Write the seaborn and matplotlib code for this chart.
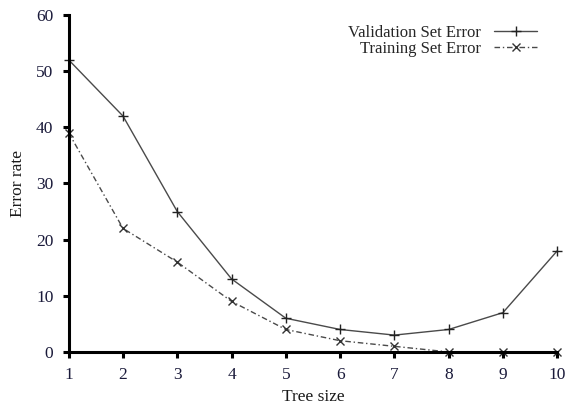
import matplotlib
matplotlib.use("Agg")
import matplotlib.pyplot as plt
import seaborn as sns
import pandas as pd

tree_size = [1, 2, 3, 4, 5, 6, 7, 8, 9, 10]
validation_error = [52, 42, 25, 13, 6, 4, 3, 4, 7, 18]
training_error = [39, 22, 16, 9, 4, 2, 1, 0, 0, 0]

sns.set_style("white")
plt.rcParams['font.family'] = ['Liberation Serif', 'DejaVu Serif']

fig = plt.figure(figsize=(5.68, 4.05), dpi=100)
ax = fig.add_axes([0.121, 0.131, 0.860, 0.832])

df = pd.DataFrame({"x": tree_size, "v": validation_error, "t": training_error})
sns.lineplot(data=df, x="x", y="v", ax=ax, color="#4a4a4a", lw=1.0,
             marker="+", markersize=7, markeredgewidth=1.0, markeredgecolor="#222222",
             label="Validation Set Error")
sns.lineplot(data=df, x="x", y="t", ax=ax, color="#4a4a4a", lw=1.0,
             marker="x", markersize=6, markeredgewidth=1.0, markeredgecolor="#333333",
             label="Training Set Error")
ax.lines[1].set_dashes((4, 2, 1, 2))

ax.set_xlim(1, 10)
ax.set_ylim(0, 60)
ax.set_xticks(tree_size)
ax.set_yticks([0, 10, 20, 30, 40, 50, 60])
ax.set_xlabel("Tree size", fontsize=12.5, color="#1a1a1a", labelpad=4)
ax.set_ylabel("Error rate", fontsize=12.5, color="#1a1a1a", labelpad=7)
for s in ["top", "right"]:
    ax.spines[s].set_visible(False)
for s in ["left", "bottom"]:
    ax.spines[s].set_linewidth(2.2)
    ax.spines[s].set_color("black")
ax.tick_params(axis="both", direction="out", length=4, width=2.2, labelsize=12.5,
               colors="black", left=True, bottom=True, pad=7)
ax.tick_params(axis="both", labelcolor="#1a1a3a")
for l in ax.lines:
    l.set_clip_on(False)

leg = ax.legend(loc="upper right", frameon=False, markerfirst=False, fontsize=12,
                handlelength=2.6, handletextpad=0.8, borderaxespad=0.0, labelspacing=0.0,
                bbox_to_anchor=(0.973, 0.99))

fig.savefig("out.png", dpi=100)
